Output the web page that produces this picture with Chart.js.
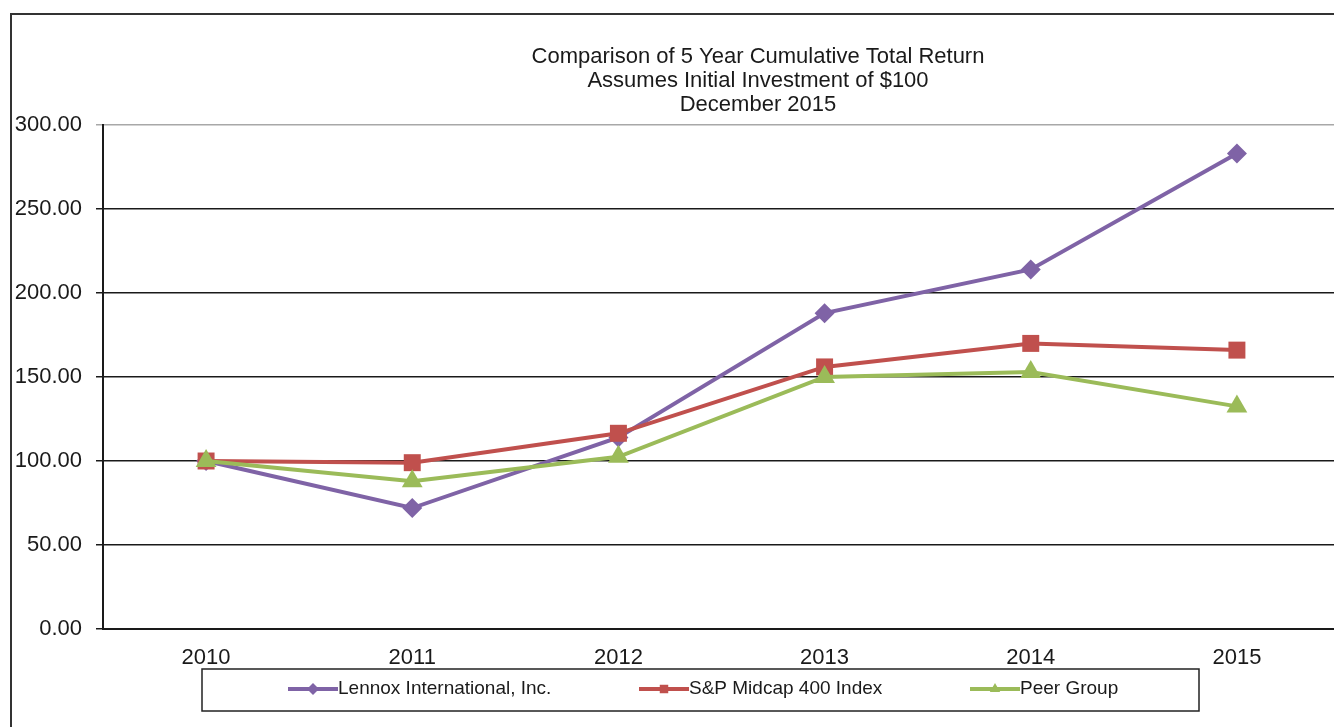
<!DOCTYPE html>
<html>
<head>
<meta charset="utf-8">
<script src="https://cdn.jsdelivr.net/npm/chart.js@4.4.1/dist/chart.umd.min.js"></script>
<style>
  html, body { margin: 0; padding: 0; background: #fff; overflow: hidden; }
  #wrap { width: 1352px; height: 727px; }
</style>
</head>
<body>
<div id="wrap"><canvas id="chart" width="1352" height="727"></canvas></div>
<script>
// --- data ---
const years = ["2010", "2011", "2012", "2013", "2014", "2015"];
const lennox = [100, 72, 114, 188, 214, 283];
const midcap = [100, 99, 116.5, 156, 170, 166];
const peer = [100, 88, 102.5, 150, 153, 132.5];
const seriesNames = ["Lennox International, Inc.", "S&P Midcap 400 Index", "Peer Group"];
const titleLines = [
  "Comparison of 5 Year Cumulative Total Return",
  "Assumes Initial Investment of $100",
  "December 2015",
];

const FONT = "'Liberation Sans', Arial, sans-serif";
const PURPLE = "#7f63a6";
const RED = "#c0504d";
const GREEN = "#9bbb59";

// --- frame, title and legend drawn by hand ---
const framePlugin = {
  id: "frame",
  beforeDraw(chart) {
    const ctx = chart.ctx;
    ctx.save();
    ctx.fillStyle = "#fff";
    ctx.fillRect(0, 0, chart.width, chart.height);
    ctx.strokeStyle = "#333";
    ctx.lineWidth = 2;
    ctx.strokeRect(11, 14, 1400, 800);
    ctx.restore();
  },
  afterDraw(chart) {
    const ctx = chart.ctx;
    ctx.save();
    // title
    ctx.fillStyle = "#1a1a1a";
    ctx.font = "22px " + FONT;
    ctx.textAlign = "center";
    ctx.textBaseline = "alphabetic";
    const baselines = [63, 87, 111];
    titleLines.forEach((t, i) => ctx.fillText(t, 758, baselines[i]));

    // legend box
    ctx.strokeStyle = "#222";
    ctx.lineWidth = 1.5;
    ctx.strokeRect(202, 669, 997, 42);

    const itemX = [288, 639, 970]; // where each sample line starts
    const cy = 689;
    chart.data.datasets.forEach((ds, i) => {
      const x0 = itemX[i];
      ctx.strokeStyle = ds.borderColor;
      ctx.lineWidth = 4;
      ctx.beginPath();
      ctx.moveTo(x0, cy);
      ctx.lineTo(x0 + 50, cy);
      ctx.stroke();
      ctx.fillStyle = ds.borderColor;
      Chart.helpers.drawPoint(ctx, {
        pointStyle: ds.pointStyle,
        radius: 6,
        rotation: 0,
        borderWidth: 0,
      }, x0 + 25, cy);
      ctx.fillStyle = "#1a1a1a";
      ctx.font = "19px " + FONT;
      ctx.textAlign = "left";
      ctx.textBaseline = "middle";
      ctx.fillText(ds.label, x0 + 50, cy);
    });
    ctx.restore();
  },
};

function lineSet(label, data, color, style, radius, order) {
  return {
    label,
    data,
    borderColor: color,
    backgroundColor: color,
    borderWidth: 4,
    pointStyle: style,
    pointRadius: radius,
    pointHoverRadius: radius,
    pointBackgroundColor: color,
    pointBorderWidth: 0,
    tension: 0,
    order,
  };
}

new Chart(document.getElementById("chart"), {
  type: "line",
  data: {
    labels: years,
    datasets: [
      lineSet(seriesNames[0], lennox, PURPLE, "rectRot", 10, 3),
      lineSet(seriesNames[1], midcap, RED, "rect", 12, 2),
      lineSet(seriesNames[2], peer, GREEN, "triangle", 12, 1),
    ],
  },
  options: {
    responsive: false,
    animation: false,
    layout: { padding: { left: 0, top: 125, right: 9, bottom: 0 } },
    plugins: {
      legend: { display: false },
      title: { display: false },
      tooltip: { enabled: false },
    },
    scales: {
      x: {
        offset: true,
        grid: { display: false, drawTicks: false },
        border: { display: true, color: "#1a1a1a", width: 2 },
        ticks: {
          color: "#1a1a1a",
          font: { family: FONT, size: 22 },
          padding: 16,
          maxRotation: 0,
        },
        afterFit: (s) => { s.height = 98; },
      },
      y: {
        min: 0,
        max: 300,
        grid: {
          color: (c) => (c.tick && c.tick.value === 300 ? "#a8a8a8" : "#1a1a1a"),
          lineWidth: 1.5,
          tickLength: 7,
        },
        border: { display: true, color: "#1a1a1a", width: 2 },
        ticks: {
          stepSize: 50,
          color: "#1a1a1a",
          font: { family: FONT, size: 22 },
          padding: 14,
          callback: (v) => Number(v).toFixed(2),
        },
        afterFit: (s) => { s.width = 103; },
      },
    },
  },
  plugins: [framePlugin],
});
</script>
</body>
</html>
